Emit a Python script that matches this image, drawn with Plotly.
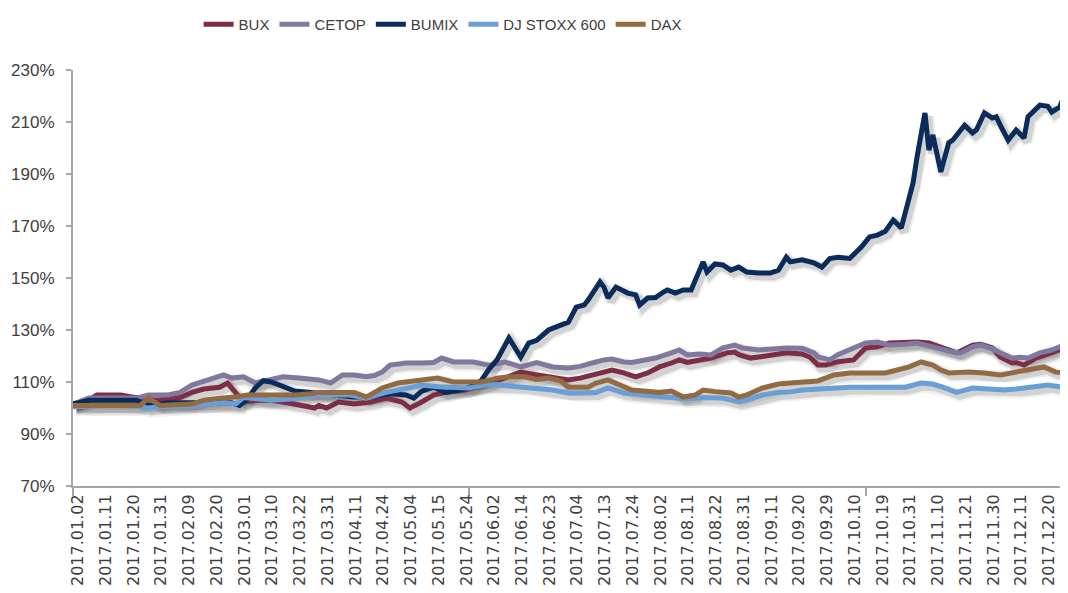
import plotly.graph_objects as go

# Trading-day labels shown on the category axis (every 7th trading day of 2017)
tick_labels = [
    "2017.01.02", "2017.01.11", "2017.01.20", "2017.01.31", "2017.02.09", "2017.02.20",
    "2017.03.01", "2017.03.10", "2017.03.22", "2017.03.31", "2017.04.11", "2017.04.24",
    "2017.05.04", "2017.05.15", "2017.05.24", "2017.06.02", "2017.06.14", "2017.06.23",
    "2017.07.04", "2017.07.13", "2017.07.24", "2017.08.02", "2017.08.11", "2017.08.22",
    "2017.08.31", "2017.09.11", "2017.09.20", "2017.09.29", "2017.10.10", "2017.10.19",
    "2017.10.31", "2017.11.10", "2017.11.21", "2017.11.30", "2017.12.11", "2017.12.20",
]
label_step = 7          # trading days between labels
n_days = 251            # trading days in 2017 (index 0..250)

y_ticks = [70, 90, 110, 130, 150, 170, 190, 210, 230]
y_tick_text = [f"{v}%" for v in y_ticks]

# Series: trading-day number and index value (%)
bux_day = [0, 4, 6, 12, 16, 21, 24, 27, 30, 33, 37, 39, 41, 43, 46, 50, 53, 58, 61, 62, 64, 67,
           71, 75, 79, 83, 85, 88, 91, 94, 99, 104, 108, 113, 116, 121, 125, 128, 131, 134, 136,
           139, 142, 145, 148, 151, 153, 155, 158, 161, 165, 167, 168, 171, 174, 176, 180, 184,
           186, 188, 190, 193, 197, 200, 203, 206, 210, 213, 216, 220, 223, 227, 229, 232, 234,
           237, 238, 240, 243, 247, 250]
bux_val = [101.5, 103, 105, 105, 104, 103, 103.5, 104, 106, 107.3, 108, 109.6, 106, 102.3, 103,
           103, 102.3, 101, 100, 101, 100, 102.3, 101.5, 102.3, 103.8, 102.3, 100, 102.3, 105,
           106, 106.9, 108.8, 110.8, 113.8, 113, 112, 110.8, 111.5, 112.7, 113.8, 114.6, 113.5,
           112, 113.5, 115.8, 117.3, 118.5, 117.5, 118.5, 119.2, 121.2, 121.5, 120.5, 119.2,
           119.8, 120.4, 121.2, 120.8, 119.5, 116.5, 116.5, 117.8, 118.5, 123.1, 123.5, 125,
           125.4, 125.4, 125, 123.1, 121.2, 124.2, 124.5, 123.1, 119.6, 117.3, 117.5, 116.5,
           119.2, 121.2, 123.1]

cetop_day = [0, 4, 16, 19, 24, 27, 30, 34, 38, 40, 43, 46, 50, 53, 57, 60, 62, 65, 68, 71, 74,
             76, 78, 80, 84, 88, 91, 93, 96, 101, 103, 105, 109, 113, 117, 121, 125, 128, 131,
             134, 136, 139, 141, 144, 147, 151, 153, 155, 158, 161, 164, 167, 169, 173, 176, 180,
             184, 187, 188, 191, 193, 196, 200, 203, 206, 210, 213, 217, 222, 224, 227, 229, 232,
             234, 237, 239, 241, 244, 247, 250]
cetop_val = [101.5, 103.8, 103.8, 105, 105, 106, 108.8, 110.8, 112.7, 111.5, 112, 109.6, 111,
             112, 111.5, 110.8, 110.8, 109.6, 112.7, 112.7, 112, 112.5, 113.8, 116.5, 117.3,
             117.3, 117.5, 119.2, 117.7, 117.7, 117.3, 116.5, 117.7, 115.8, 117.5, 115.8, 115.4,
             116, 117.3, 118.5, 118.8, 117.7, 117.5, 118.5, 119.2, 121.2, 122.3, 120.4, 120.8,
             120.4, 123.1, 124.2, 123.1, 122.3, 122.8, 123.1, 123, 121.2, 119.6, 118.5, 120.5,
             122.3, 125, 125.4, 124.2, 124.5, 125, 123.5, 121.5, 121.2, 123.5, 124.2, 122.8,
             121.2, 119.2, 119.5, 119.2, 121.2, 122.3, 124.2]

bumix_day = [0, 4, 12, 16, 19, 24, 30, 35, 40, 42, 44, 46, 48, 50, 53, 56, 60, 65, 71, 76, 80,
             84, 86, 88, 91, 94, 98, 101, 103, 105, 107, 110, 113, 115, 117, 120, 123, 125, 127,
             129, 130, 133, 134, 135, 137, 140, 142, 143, 145, 147, 149, 150, 152, 154, 156, 159,
             160, 162, 164, 166, 168, 170, 173, 176, 178, 180, 181, 184, 187, 189, 191, 193, 196,
             199, 201, 203, 205, 207, 209, 210, 212, 213, 214, 215, 216, 217, 218, 219, 221, 222,
             225, 227, 228, 230, 232, 233, 234, 236, 238, 240, 241, 244, 246, 247, 249, 250]
bumix_val = [101.5, 103, 103, 103, 101, 102, 102, 102, 102, 101, 103.5, 107.7, 110.5, 110, 108,
             106.5, 106, 105, 104.2, 104.5, 105.5, 105, 103.8, 106.5, 108, 106, 107, 108.5, 110.5,
             115, 118.5, 126.9, 119.6, 125, 126, 130, 132, 133, 138.8, 139.6, 141.5, 148.5, 146.5,
             142.3, 146.5, 144.2, 143.5, 139.6, 142.3, 142.5, 144.6, 145.4, 144.2, 145.4, 145.4,
             156.2, 152.3, 155.4, 155, 153, 154.2, 152.3, 151.9, 151.9, 153, 158, 156.2, 157,
             155.8, 154.2, 157.5, 158, 157.5, 162, 165.8, 166.5, 168, 172.3, 169.2, 175, 186.5,
             196.5, 204, 213.5, 199.2, 205, 198, 190.8, 202, 203, 208.8, 205.8, 207, 213.5, 211.5,
             212, 208.8, 203, 206.9, 203.8, 212, 216.5, 216, 213.8, 215.8, 219.6]

stoxx_day = [0, 10, 17, 19, 22, 30, 38, 41, 43, 46, 50, 55, 62, 66, 70, 74, 79, 84, 88, 92, 97,
             100, 104, 107, 110, 114, 117, 121, 125, 128, 132, 135, 139, 143, 147, 151, 155, 159,
             164, 168, 171, 174, 178, 181, 184, 188, 193, 196, 201, 206, 210, 214, 217, 220, 223,
             227, 232, 235, 238, 243, 246, 250]
stoxx_val = [100.5, 101, 100.5, 100, 100.5, 101, 102, 101.5, 104, 103.5, 103, 103.5, 105, 105,
             105, 103.8, 106, 107.5, 108.8, 108.2, 108, 107.7, 108.8, 109, 108.5, 108.2, 107.5,
             106.9, 105.8, 105.8, 106, 107.7, 105.8, 105.2, 104.6, 104.2, 103.5, 104, 103.8,
             102.3, 103.5, 105, 106, 106.2, 106.9, 107.3, 107.5, 108, 108, 108, 108, 109.6, 109.2,
             107.7, 106, 107.7, 107.3, 106.9, 107.3, 108, 108.8, 108]

dax_day = [0, 4, 12, 17, 19, 22, 30, 33, 37, 41, 44, 47, 50, 53, 56, 60, 62, 65, 68, 71, 74, 78,
           82, 85, 88, 92, 96, 100, 103, 106, 107, 110, 114, 117, 120, 123, 125, 130, 132, 135,
           138, 141, 144, 148, 151, 154, 157, 159, 162, 166, 168, 170, 174, 178, 181, 185, 188,
           192, 196, 200, 205, 208, 211, 214, 217, 219, 221, 226, 230, 234, 237, 240, 243, 245,
           248, 250]
dax_val = [101, 101, 101, 101, 103.8, 101, 101.5, 103, 103.8, 104.2, 105, 105, 105, 105, 105,
           105.5, 106, 106, 106, 106, 104.2, 107.7, 109.6, 110, 110.8, 111.5, 110, 110, 110, 111,
           111.5, 112, 112, 111, 111.5, 110.5, 108, 108, 109.6, 110.8, 108.8, 106.9, 106.5, 106,
           106.5, 104.2, 105, 106.9, 106.3, 105.8, 104.2, 105, 107.7, 109.2, 109.6, 110, 110.4,
           112.7, 113.5, 113.5, 113.5, 114.6, 115.8, 117.7, 116.5, 114.6, 113.5, 113.8, 113.5,
           112.7, 113.5, 114.6, 115, 115.8, 113.8, 113.5]

series = [
    ("BUX", bux_day, bux_val, "#7D2E46"),
    ("CETOP", cetop_day, cetop_val, "#8178A0"),
    ("BUMIX", bumix_day, bumix_val, "#0B2C5A"),
    ("DJ STOXX 600", stoxx_day, stoxx_val, "#6A9FD6"),
    ("DAX", dax_day, dax_val, "#936B42"),
]

fig = go.Figure()

# soft drop shadow (drawn first, offset slightly down-right)
shadow_dx, shadow_dy = 0.8, -1.3
for name, d, v, c in series:
    for w, a in ((12, 0.06), (8, 0.12)):
        fig.add_trace(go.Scatter(
            x=[t + shadow_dx for t in d], y=[s + shadow_dy for s in v],
            mode="lines", line=dict(color=f"rgba(0,0,0,{a})", width=w),
            showlegend=False, hoverinfo="skip"))

for name, d, v, c in series:
    fig.add_trace(go.Scatter(x=d, y=v, name=name, mode="lines",
                             line=dict(color=c, width=5)))

axis_col = "#A6A6A6"
# page body has an 8px default margin, so the figure is sized to fit inside the window
fig.update_layout(
    width=1060, height=585,
    margin=dict(l=65, r=0, t=62, b=107),
    paper_bgcolor="white", plot_bgcolor="white",
    font=dict(family="Liberation Sans, Arial, sans-serif", color="#404040"),
    legend=dict(orientation="h", xref="container", yref="container",
                x=0.41, xanchor="center", y=1.0, yanchor="top",
                font=dict(family="Liberation Sans, Arial", size=15, color="#404040"),
                itemwidth=30, traceorder="normal"),
    showlegend=True,
)
fig.update_xaxes(
    range=[0, 251.1], showgrid=False, zeroline=False, automargin=False,
    showline=True, linecolor=axis_col, linewidth=2,
    tickmode="array", tickvals=[i * label_step for i in range(len(tick_labels))],
    ticktext=tick_labels, tickangle=-90, ticks="", ticklabelshift=5,
    tickfont=dict(family="DejaVu Sans", size=16, color="#404040"),
    minor=dict(tickmode="array", tickvals=[0, 100, 200], ticks="outside",
               ticklen=8, tickcolor=axis_col, tickwidth=2),
)
fig.update_yaxes(
    range=[70, 230], tickmode="array", tickvals=y_ticks, ticktext=y_tick_text,
    showgrid=False, zeroline=False, automargin=False,
    showline=True, linecolor=axis_col, linewidth=2,
    ticks="outside", ticklen=5, tickcolor=axis_col, tickwidth=2,
    tickfont=dict(family="Liberation Sans, Arial", size=17, color="#404040"),
    ticklabelstandoff=8,
)

fig.write_html("out.html")
